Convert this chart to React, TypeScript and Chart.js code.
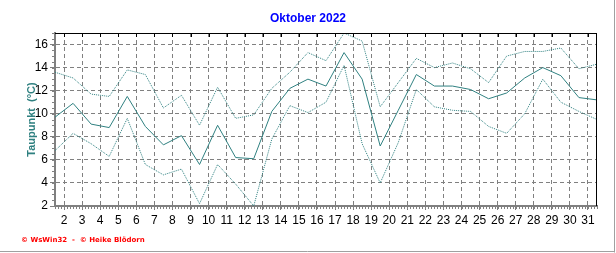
import React, { useEffect, useRef } from 'react';
import { Chart, registerables } from 'chart.js';

Chart.register(...registerables);

// ---- data ----
const titleText = 'Oktober 2022';
const yAxisTitle = 'Taupunkt  (°C)';
const creditText = '© WsWin32  -  © Heike Blödorn';
const days = [1, 2, 3, 4, 5, 6, 7, 8, 9, 10, 11, 12, 13, 14, 15, 16, 17, 18, 19, 20, 21, 22, 23, 24, 25, 26, 27, 28, 29, 30, 31];
const dewMean = [9.7, 10.9, 9.1, 8.8, 11.5, 8.9, 7.3, 8.1, 5.6, 9.0, 6.2, 6.1, 10.2, 12.2, 13.0, 12.4, 15.3, 13.0, 7.2, 10.3, 13.4, 12.4, 12.4, 12.1, 11.3, 11.8, 13.1, 14.0, 13.3, 11.4, 11.2];
const dewMax = [13.6, 13.1, 11.7, 11.5, 13.8, 13.4, 10.5, 11.6, 9.0, 12.3, 9.6, 9.9, 12.2, 13.6, 15.3, 14.6, 17.0, 16.3, 10.6, 12.7, 14.8, 14.0, 14.4, 13.9, 12.7, 15.0, 15.4, 15.4, 15.7, 13.9, 14.3];
const dewMin = [6.8, 8.3, 7.4, 6.3, 9.6, 5.6, 4.7, 5.2, 2.2, 5.6, 3.9, 2.0, 7.8, 10.7, 10.1, 11.0, 14.2, 7.4, 4.0, 7.5, 12.1, 10.6, 10.3, 10.2, 8.9, 8.3, 10.0, 13.0, 11.0, 10.2, 9.5];
const xTicks = [2, 3, 4, 5, 6, 7, 8, 9, 10, 11, 12, 13, 14, 15, 16, 17, 18, 19, 20, 21, 22, 23, 24, 25, 26, 27, 28, 29, 30, 31];
const yTicks = [2, 4, 6, 8, 10, 12, 14, 16];

const TEAL = '#2f8080';
const FONT = '"Liberation Sans", Arial, sans-serif';

const toPoints = (vals: number[]) => days.map((d, i) => ({ x: d + 0.5, y: vals[i] }));

const decorPlugin = {
  id: 'decor',
  afterDraw(chart: any) {
    const ctx = chart.ctx;
    const { left, right, top, bottom } = chart.chartArea;
    const xs = chart.scales.x;
    const ys = chart.scales.y;
    ctx.save();
    // minor ticks x
    ctx.strokeStyle = '#808080';
    ctx.lineWidth = 1;
    ctx.beginPath();
    for (let k = 0; k <= 180; k++) {
      const v = xs.min + k / 6;
      const px = Math.round(xs.getPixelForValue(v)) + 0.5;
      ctx.moveTo(px, bottom + 1);
      ctx.lineTo(px, bottom + 3);
    }
    // minor ticks y
    for (let k = 0; k <= 30; k++) {
      const v = ys.min + k * 0.5;
      const py = Math.round(ys.getPixelForValue(v)) + 0.5;
      ctx.moveTo(left - 3, py);
      ctx.lineTo(left - 1, py);
    }
    ctx.stroke();
    // top + right border black
    ctx.strokeStyle = '#000';
    ctx.beginPath();
    ctx.moveTo(left, Math.round(top) + 0.5);
    ctx.lineTo(right, Math.round(top) + 0.5);
    ctx.moveTo(Math.round(right) - 0.5, top);
    ctx.lineTo(Math.round(right) - 0.5, bottom);
    for (const t of xTicks) {
      const px = Math.round(xs.getPixelForValue(t)) + 0.5;
      ctx.moveTo(px, top);
      ctx.lineTo(px, top + 4);
    }
    ctx.stroke();
    // outer frame
    ctx.strokeStyle = '#a0a0a0';
    ctx.beginPath();
    ctx.moveTo(614.5, 0);
    ctx.lineTo(614.5, 252.5);
    ctx.moveTo(0, 251.5);
    ctx.lineTo(615, 251.5);
    ctx.stroke();
    // credit
    ctx.fillStyle = '#ff0000';
    ctx.font = 'bold 7px "DejaVu Sans", sans-serif';
    ctx.textBaseline = 'alphabetic';
    ctx.textAlign = 'left';
    ctx.fillText(creditText, 21, 242);
    ctx.restore();
  },
};

export default function App() {
  const ref = useRef<HTMLCanvasElement | null>(null);
  useEffect(() => {
    if (!ref.current) return;
    const chart = new Chart(ref.current, {
      type: 'line',
      data: {
        datasets: [
          { label: 'max', data: toPoints(dewMax), borderColor: TEAL, borderWidth: 1, borderDash: [1, 1], pointRadius: 0, fill: false, tension: 0 },
          { label: 'mittel', data: toPoints(dewMean), borderColor: TEAL, borderWidth: 1, pointRadius: 0, fill: false, tension: 0 },
          { label: 'min', data: toPoints(dewMin), borderColor: TEAL, borderWidth: 1, borderDash: [1, 1], pointRadius: 0, fill: false, tension: 0 },
        ],
      },
      options: {
        animation: false,
        responsive: false,
        maintainAspectRatio: false,
        layout: { padding: 0 },
        plugins: {
          legend: { display: false },
          tooltip: { enabled: false },
          title: {
            display: true,
            text: titleText,
            color: '#0000ff',
            font: { family: FONT, size: 12, weight: 'bold' },
            padding: { top: 11, bottom: 7.6 },
          },
        },
        scales: {
          x: {
            type: 'linear',
            min: 1.5,
            max: 31.5,
            afterBuildTicks: (s: any) => { s.ticks = xTicks.map((v) => ({ value: v })); },
            afterFit: (s: any) => { s.height = 47; },
            grid: { color: '#808080', tickLength: 4, tickColor: '#808080', tickBorderDash: [] },
            border: { display: true, color: '#808080', width: 2, dash: [4, 3] },
            ticks: { color: '#000', font: { family: FONT, size: 12 }, padding: 3, maxRotation: 0, autoSkip: false, callback: (v: any) => String(v) },
          },
          y: {
            type: 'linear',
            min: 2,
            max: 17,
            afterBuildTicks: (s: any) => { s.ticks = yTicks.map((v) => ({ value: v })); },
            afterFit: (s: any) => { s.width = 55; },
            grid: { color: '#808080', tickLength: 5, tickColor: '#808080', tickBorderDash: [] },
            border: { display: true, color: '#808080', width: 2, dash: [4, 3] },
            ticks: { color: '#000', font: { family: FONT, size: 12 }, padding: 2, callback: (v: any) => String(v) },
            title: { display: true, text: yAxisTitle, color: TEAL, font: { family: FONT, size: 11, weight: 'bold' }, padding: { top: 25, bottom: 0 } },
          },
          yR: {
            type: 'linear',
            position: 'right',
            display: true,
            grid: { display: false, drawTicks: false },
            ticks: { display: false },
            border: { display: false },
            afterFit: (s: any) => { s.width = 19; },
          },
        },
      },
      plugins: [decorPlugin],
    } as any);
    return () => chart.destroy();
  }, []);
  return (
    <div style={{ position: 'fixed', left: 0, top: 0, width: 616, height: 253, background: '#fff' }}>
      <canvas ref={ref} width={616} height={253} style={{ display: 'block', width: 616, height: 253 }} />
    </div>
  );
}
